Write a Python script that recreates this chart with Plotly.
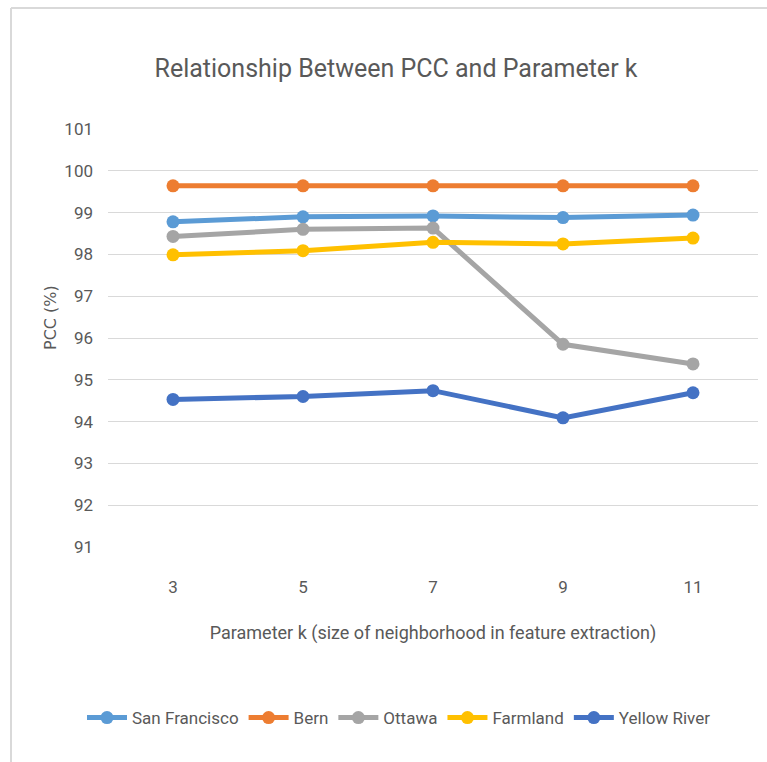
import plotly.graph_objects as go

# Neighborhood size k (x categories)
k_values = [3, 5, 7, 9, 11]

# PCC (%) per dataset
san_francisco = [98.78, 98.90, 98.92, 98.88, 98.94]
bern = [99.64, 99.64, 99.64, 99.64, 99.64]
ottawa = [98.43, 98.60, 98.63, 95.85, 95.38]
farmland = [97.99, 98.09, 98.29, 98.25, 98.39]
yellow_river = [94.53, 94.60, 94.74, 94.09, 94.69]

y_ticks = list(range(91, 102))

series = [
    ("San Francisco", san_francisco, "#5B9BD5"),
    ("Bern", bern, "#ED7D31"),
    ("Ottawa", ottawa, "#A5A5A5"),
    ("Farmland", farmland, "#FFC000"),
    ("Yellow River", yellow_river, "#4472C4"),
]

FONT = "Roboto, Arial, sans-serif"
TEXT = "#595959"
GRID = "#D9D9D9"

W, H = 767, 762
L, R, T, B = 108, 9, 129, 215
PW, PH = W - L - R, H - T - B


def px_x(x):
    """Container pixel x -> paper fraction of the plot area."""
    return (x - L) / PW


def px_y(y):
    """Container pixel y (from top) -> paper fraction of the plot area."""
    return (H - B - y) / PH


fig = go.Figure()
for name, vals, color in series:
    fig.add_trace(go.Scatter(
        x=k_values, y=vals, name=name, mode="lines+markers",
        line=dict(color=color, width=5),
        marker=dict(color=color, size=13, symbol="circle"),
        cliponaxis=False,
    ))

fig.update_layout(
    width=W, height=H,
    margin=dict(l=L, r=R, t=T, b=B),
    paper_bgcolor="white", plot_bgcolor="white",
    font=dict(family=FONT, color=TEXT, size=16),
    title=dict(
        text="Relationship Between PCC and Parameter k",
        x=px_x(396), xanchor="center", xref="paper",
        y=1 - 68 / H, yanchor="middle", yref="container",
        font=dict(family=FONT, size=25, color=TEXT),
    ),
    xaxis=dict(
        range=[2, 12], tickvals=k_values, ticktext=[str(k) for k in k_values],
        showgrid=False, zeroline=False, showline=False, ticks="",
        ticklabelstandoff=28,
        tickfont=dict(size=17, color=TEXT),
        title=dict(text="Parameter k (size of neighborhood in feature extraction)",
                   font=dict(size=18, color=TEXT), standoff=30),
    ),
    yaxis=dict(
        range=[91, 101], tickvals=y_ticks, ticktext=[str(v) for v in y_ticks],
        showgrid=True, gridcolor=GRID, gridwidth=1, zeroline=False,
        showline=False, ticks="", ticklabelstandoff=14,
        tickfont=dict(size=17, color=TEXT),
    ),
    legend=dict(
        orientation="h", x=px_x(399), xanchor="center", xref="paper",
        y=1 - 718 / H, yanchor="middle", yref="container",
        font=dict(size=17, color=TEXT),
        itemwidth=40,
    ),
    annotations=[
        dict(text="PCC (%)", textangle=-90, xref="paper", yref="paper",
             x=px_x(50), y=px_y(318), xanchor="center", yanchor="middle",
             showarrow=False,
             font=dict(family="DejaVu Sans, sans-serif", size=16, color=TEXT)),
    ],
    shapes=[
        dict(type="line", xref="paper", yref="paper", x0=px_x(11), x1=px_x(767),
             y0=px_y(8), y1=px_y(8), line=dict(color=GRID, width=2)),
        dict(type="line", xref="paper", yref="paper", x0=px_x(11), x1=px_x(11),
             y0=px_y(8), y1=px_y(762), line=dict(color=GRID, width=2)),
    ],
)

fig.write_html("out.html")
